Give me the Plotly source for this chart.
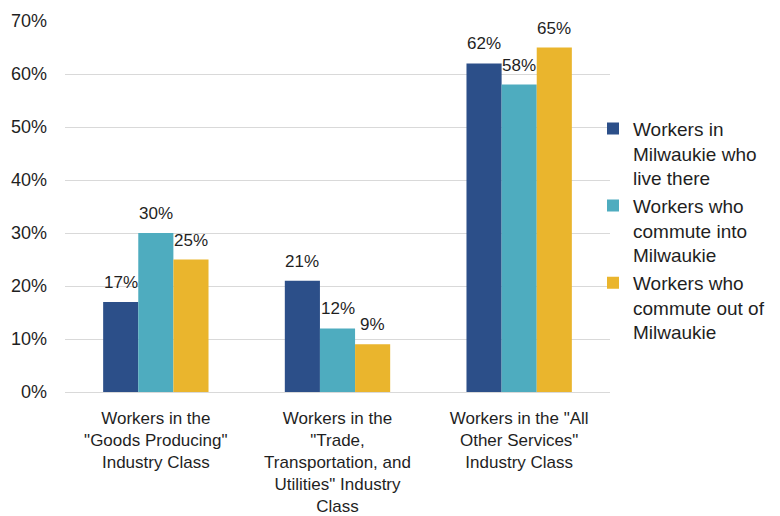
import plotly.graph_objects as go

categories = [
    'Workers in the<br>"Goods Producing"<br>Industry Class',
    'Workers in the<br>"Trade,<br>Transportation, and<br>Utilities" Industry<br>Class',
    'Workers in the "All<br>Other Services"<br>Industry Class',
]
series_names = [
    "Workers in<br>Milwaukie who<br>live there",
    "Workers who<br>commute into<br>Milwaukie",
    "Workers who<br>commute out of<br>Milwaukie",
]
live_there = [17, 21, 62]
commute_in = [30, 12, 58]
commute_out = [25, 9, 65]
colors = ["#2C4F89", "#4EACBF", "#EAB52D"]
y_ticks = [0, 10, 20, 30, 40, 50, 60, 70]
y_tick_text = [f"{t}%" for t in y_ticks]

FONT = "Liberation Sans, Arial, sans-serif"
TEXT = "#1F1F1F"

W, H = 780, 516
ML, MR, MT, MB = 65, 170, 21, 124
BARGAP = 0.42

all_series = [live_there, commute_in, commute_out]

fig = go.Figure()
for name, vals, col in zip(series_names, all_series, colors):
    fig.add_trace(go.Bar(
        x=categories, y=vals, name=name,
        marker=dict(color=col, line=dict(width=0)),
        cliponaxis=False,
    ))

# value labels above each bar, shifted sideways to sit over their bar in the group
plot_w = W - ML - MR
bar_px = plot_w / len(categories) * (1 - BARGAP) / len(all_series)
n = len(all_series)
for i, vals in enumerate(all_series):
    shift = (i - (n - 1) / 2) * bar_px
    for cat, v in zip(categories, vals):
        fig.add_annotation(
            x=cat, y=v, text=f"{v}%", showarrow=False,
            xanchor="center", yanchor="bottom", xshift=shift, yshift=8,
            font=dict(size=17, family=FONT, color=TEXT),
        )

fig.update_layout(
    width=W, height=H,
    margin=dict(l=ML, r=MR, t=MT, b=MB, autoexpand=False),
    paper_bgcolor="white", plot_bgcolor="white",
    barmode="group", bargap=BARGAP, bargroupgap=0,
    font=dict(family=FONT, size=18, color=TEXT),
    legend=dict(
        x=(593 - ML) / plot_w, y=0.435, xanchor="left", yanchor="middle",
        font=dict(size=19, family=FONT, color=TEXT),
        bgcolor="rgba(0,0,0,0)", valign="top",
    ),
    showlegend=True,
)
fig.update_xaxes(showline=False, ticks="", tickfont=dict(size=17, family=FONT, color=TEXT),
                 ticklabelstandoff=14, automargin=False)
fig.update_yaxes(
    range=[0, 70], tickmode="array", tickvals=y_ticks, ticktext=y_tick_text,
    showgrid=True, gridcolor="#D9D9D9", gridwidth=1,
    zeroline=True, zerolinecolor="#D9D9D9", zerolinewidth=1,
    tickfont=dict(size=18, family=FONT, color=TEXT), ticks="",
    ticklabelstandoff=17, automargin=False,
)

fig.write_html("out.html")
